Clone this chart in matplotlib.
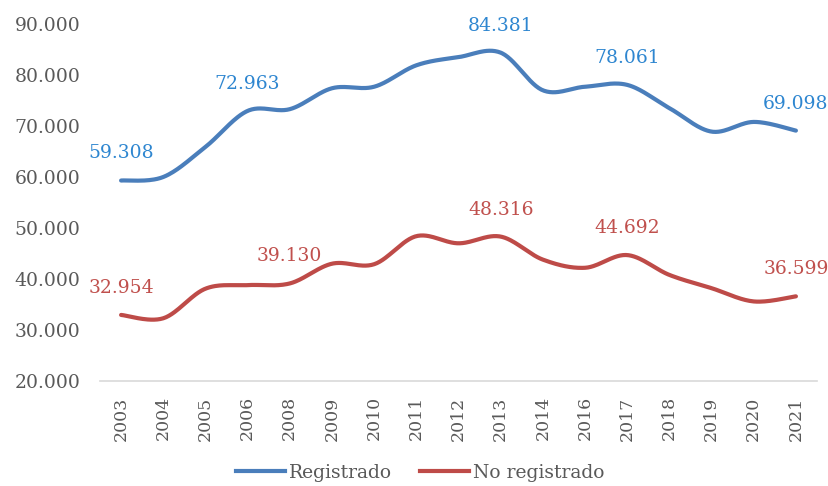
import numpy as np
import matplotlib
matplotlib.use("Agg")
import matplotlib.pyplot as plt
from matplotlib.lines import Line2D

years = ["2003", "2004", "2005", "2006", "2008", "2009", "2010", "2011", "2012",
         "2013", "2014", "2016", "2017", "2018", "2019", "2020", "2021"]
registrado = [59308, 60000, 65900, 72963, 73300, 77400, 77700, 81900, 83500,
              84381, 77000, 77700, 78061, 73500, 68900, 70800, 69098]
no_registrado = [32954, 32300, 38100, 38800, 39130, 43000, 42900, 48400, 47000,
                 48316, 43800, 42200, 44692, 40800, 38200, 35600, 36599]
labeled_reg = [0, 3, 9, 12, 16]
labeled_noreg = [0, 4, 9, 12, 16]
yticks = [20000, 30000, 40000, 50000, 60000, 70000, 80000, 90000]

plt.rcParams['font.family'] = ['DejaVu Serif']

BLUE = "#4A7EBB"
RED = "#BE4B48"
BLUE_LBL = "#2E86D0"
RED_LBL = "#C0504D"
GRAY = "#595959"


def smooth(xs, ys, n=30):
    xs = np.asarray(xs, float)
    ys = np.asarray(ys, float)
    P = np.column_stack([xs, ys])
    out = []
    m = len(P)
    for i in range(m - 1):
        p0 = P[i - 1] if i > 0 else P[i]
        p1 = P[i]
        p2 = P[i + 1]
        p3 = P[i + 2] if i + 2 < m else P[i + 1]
        c1 = p1 + (p2 - p0) / 6.0
        c2 = p2 - (p3 - p1) / 6.0
        t = np.linspace(0, 1, n, endpoint=(i == m - 2))[:, None]
        seg = ((1 - t) ** 3) * p1 + 3 * ((1 - t) ** 2) * t * c1 + 3 * (1 - t) * t ** 2 * c2 + t ** 3 * p2
        out.append(seg)
    out = np.vstack(out)
    return out[:, 0], out[:, 1]


def fmt(v):
    return f"{v:,.0f}".replace(",", ".")


fig = plt.figure(figsize=(8.29, 4.86), dpi=100)
ax = fig.add_axes([100 / 829, 1 - 381 / 486, 717 / 829, (381 - 24) / 486])

x = np.arange(len(years))
for vals, col, lcol, idx in [(registrado, BLUE, BLUE_LBL, labeled_reg),
                             (no_registrado, RED, RED_LBL, labeled_noreg)]:
    sx, sy = smooth(x, vals)
    ax.plot(sx, sy, color=col, lw=3.0, solid_capstyle='round')
    for i in idx:
        ax.annotate(fmt(vals[i]), (x[i], vals[i]), xytext=(0, 19.5),
                    textcoords='offset points', ha='center', va='center',
                    color=lcol, fontsize=13.5)

ax.set_xlim(-0.5, len(years) - 0.5)
ax.set_ylim(20000, 90000)
ax.set_yticks(yticks)
ax.set_yticklabels([fmt(v) for v in yticks])
ax.set_xticks(x)
ax.set_xticklabels(years, rotation=90)
ax.tick_params(axis='both', length=0, colors=GRAY, labelsize=13.5)
ax.tick_params(axis='x', pad=11, labelsize=12.5)
ax.tick_params(axis='y', pad=14)
for s in ['top', 'right', 'left']:
    ax.spines[s].set_visible(False)
ax.spines['bottom'].set_color("#D9D9D9")
ax.spines['bottom'].set_linewidth(1.2)

handles = [Line2D([], [], color=BLUE, lw=3.0), Line2D([], [], color=RED, lw=3.0)]
fig.legend(handles, ["Registrado", "No registrado"], loc='center',
           bbox_to_anchor=(0.507, 0.027), ncol=2, frameon=False,
           fontsize=13.5, handlelength=2.6, handletextpad=0.2, columnspacing=1.5,
           labelcolor=GRAY, borderpad=0.2)

fig.savefig("out.png", dpi=100)
